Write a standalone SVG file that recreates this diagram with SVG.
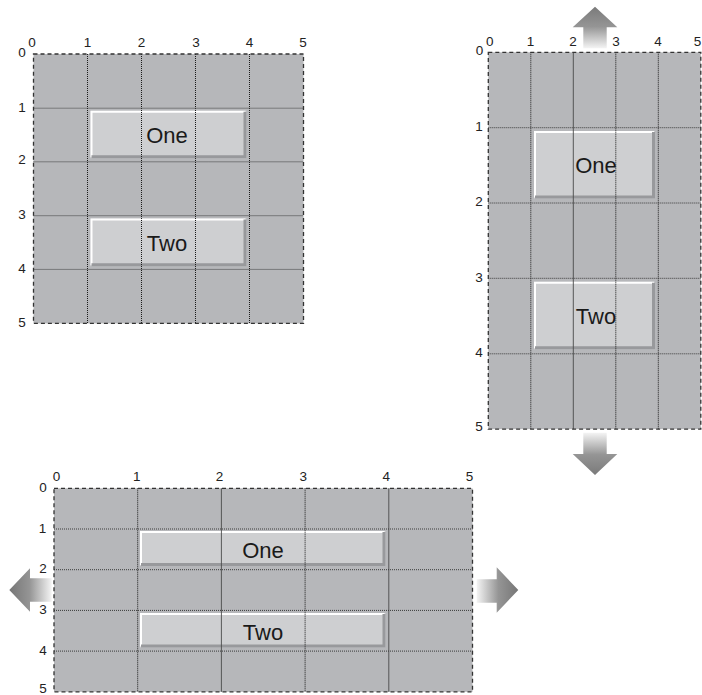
<svg xmlns="http://www.w3.org/2000/svg" width="702" height="695" viewBox="0 0 702 695">
<style>
.bg{fill:#b6b7ba}
.box{fill:#cecfd1}
.hi{fill:none;stroke:#ffffff;stroke-width:2}
.sh{fill:none;stroke:#98999c;stroke-width:3}
.dot{stroke:#1a1a1a;stroke-width:1;stroke-dasharray:1 1;fill:none}
.hdot{stroke:#3a3a3a;stroke-width:1;stroke-dasharray:1 1;fill:none}
.sol{stroke:#4a4a4a;stroke-width:0.9;fill:none}
.border{fill:none;stroke:#333;stroke-width:1.3;stroke-dasharray:4 3}
.ax{font-family:"Liberation Sans",Arial,sans-serif;font-size:13.5px;fill:#222;text-anchor:middle}
.lbl{font-family:"Liberation Sans",Arial,sans-serif;font-size:22px;fill:#1a1a1a;text-anchor:middle}
</style>
<defs>
<linearGradient id="gUp" x1="0" y1="0" x2="0" y2="1">
<stop offset="0" stop-color="#7a7a7a"/><stop offset="0.48" stop-color="#959595"/><stop offset="1" stop-color="#f4f4f4"/>
</linearGradient>
<linearGradient id="gDown" x1="0" y1="1" x2="0" y2="0">
<stop offset="0" stop-color="#7a7a7a"/><stop offset="0.48" stop-color="#959595"/><stop offset="1" stop-color="#f4f4f4"/>
</linearGradient>
<linearGradient id="gLeft" x1="0" y1="0" x2="1" y2="0">
<stop offset="0" stop-color="#767676"/><stop offset="0.48" stop-color="#959595"/><stop offset="1" stop-color="#f4f4f4"/>
</linearGradient>
<linearGradient id="gRight" x1="1" y1="0" x2="0" y2="0">
<stop offset="0" stop-color="#767676"/><stop offset="0.48" stop-color="#959595"/><stop offset="1" stop-color="#f4f4f4"/>
</linearGradient>
</defs>
<rect width="702" height="695" fill="#ffffff"/>

<!-- Grid A: top-left -->
<g id="gridA">
<rect class="bg" x="33.5" y="54" width="270" height="269.4"/>
<g id="gridA-one">
<rect class="box" x="90.5" y="110.7" width="156" height="47.6"/>
<polyline class="hi" points="91.5,157.3 91.5,111.7 245.5,111.7"/>
<polyline class="sh" points="91.5,156.8 245,156.8 245,111.7"/>
<text class="lbl" x="167" y="143">One</text>
</g>
<g id="gridA-two">
<rect class="box" x="90.5" y="218.4" width="156" height="47.8"/>
<polyline class="hi" points="91.5,265.2 91.5,219.4 245.5,219.4"/>
<polyline class="sh" points="91.5,264.7 245,264.7 245,219.4"/>
<text class="lbl" x="167" y="251">Two</text>
</g>
<path class="dot" d="M87.5 54V323.4M141.5 54V323.4M195.5 54V323.4M249.5 54V323.4"/>
<path class="hdot" d="M33.5 108.2H303.5M33.5 161.8H303.5M33.5 215.7H303.5M33.5 269.4H303.5"/>
<rect class="border" x="33.5" y="54" width="270" height="269.4"/>
<g class="ax">
<text x="32" y="46.5">0</text><text x="87.5" y="46.5">1</text><text x="141.5" y="46.5">2</text><text x="196" y="46.5">3</text><text x="249.5" y="46.5">4</text><text x="303" y="46.5">5</text>
<text x="22" y="57">0</text><text x="22" y="111.7">1</text><text x="22" y="163.5">2</text><text x="22" y="219">3</text><text x="22" y="273">4</text><text x="22" y="326.8">5</text>
</g>
</g>

<!-- Grid B: top-right (taller) -->
<g id="gridB">
<rect class="bg" x="488.3" y="52.3" width="212.5" height="376.8"/>
<g id="gridB-one">
<rect class="box" x="534" y="131" width="121" height="67.5"/>
<polyline class="hi" points="535,197.5 535,132 654,132"/>
<polyline class="sh" points="535,197 653.5,197 653.5,132"/>
<text class="lbl" x="596" y="173">One</text>
</g>
<g id="gridB-two">
<rect class="box" x="534" y="281.7" width="121" height="67.6"/>
<polyline class="hi" points="535,348.3 535,282.7 654,282.7"/>
<polyline class="sh" points="535,347.8 653.5,347.8 653.5,282.7"/>
<text class="lbl" x="596" y="324">Two</text>
</g>
<path class="dot" d="M530.8 52.3V429.1M615.8 52.3V429.1M658.3 52.3V429.1"/>
<path class="sol" d="M573.3 52.3V429.1"/>
<path class="hdot" d="M488.3 127.7H700.8M488.3 203H700.8M488.3 278.3H700.8M488.3 353.8H700.8"/>
<rect class="border" x="488.3" y="52.3" width="212.5" height="376.8"/>
<g class="ax">
<text x="489.7" y="45.5">0</text><text x="530.5" y="45.5">1</text><text x="573" y="45.5">2</text><text x="616" y="45.5">3</text><text x="658" y="45.5">4</text><text x="697.5" y="45.5">5</text>
<text x="479.5" y="55.3">0</text><text x="479" y="130.8">1</text><text x="479" y="206.2">2</text><text x="479" y="281.6">3</text><text x="479" y="357">4</text><text x="479" y="431">5</text>
</g>
</g>

<!-- Grid C: bottom (wider) -->
<g id="gridC">
<rect class="bg" x="54" y="488.3" width="418.5" height="203.5"/>
<g id="gridC-one">
<rect class="box" x="140" y="531" width="245.5" height="35"/>
<polyline class="hi" points="141,565 141,532 384.5,532"/>
<polyline class="sh" points="141,564.5 384,564.5 384,532"/>
<text class="lbl" x="263" y="557.5">One</text>
</g>
<g id="gridC-two">
<rect class="box" x="140" y="613" width="245.5" height="34.5"/>
<polyline class="hi" points="141,646.5 141,614 384.5,614"/>
<polyline class="sh" points="141,646 384,646 384,614"/>
<text class="lbl" x="263" y="639.5">Two</text>
</g>
<path class="dot" d="M137.7 488.3V691.8M305.1 488.3V691.8"/>
<path class="sol" d="M221.4 488.3V691.8M388.8 488.3V691.8"/>
<path class="hdot" d="M54 529H472.5M54 569.7H472.5M54 610.4H472.5M54 651.1H472.5"/>
<rect class="border" x="54" y="488.3" width="418.5" height="203.5"/>
<g class="ax">
<text x="56.5" y="480.7">0</text><text x="136.7" y="480.7">1</text><text x="219.5" y="480.7">2</text><text x="303.3" y="480.7">3</text><text x="386.2" y="480.7">4</text><text x="469.5" y="480.7">5</text>
<text x="43" y="491.8">0</text><text x="42.5" y="532.8">1</text><text x="43" y="573.3">2</text><text x="43" y="614">3</text><text x="43" y="654.6">4</text><text x="43" y="693.3">5</text>
</g>
</g>

<!-- Arrows -->
<g id="arrows">
<polygon fill="url(#gUp)" points="595,6.7 617.3,27.3 606.7,27.3 606.7,48.3 583.3,48.3 583.3,27.3 572.7,27.3"/>
<polygon fill="url(#gDown)" points="583.3,432.7 606.7,432.7 606.7,454 617.3,454 595,475 572.7,454 583.3,454"/>
<polygon fill="url(#gLeft)" points="9.3,590 30,568.3 30,578.3 51.7,578.3 51.7,601.7 30,601.7 30,611.7"/>
<polygon fill="url(#gRight)" points="476.7,579.3 496.7,579.3 496.7,567.3 518.3,590 496.7,612.7 496.7,602.7 476.7,602.7"/>
</g>
</svg>
